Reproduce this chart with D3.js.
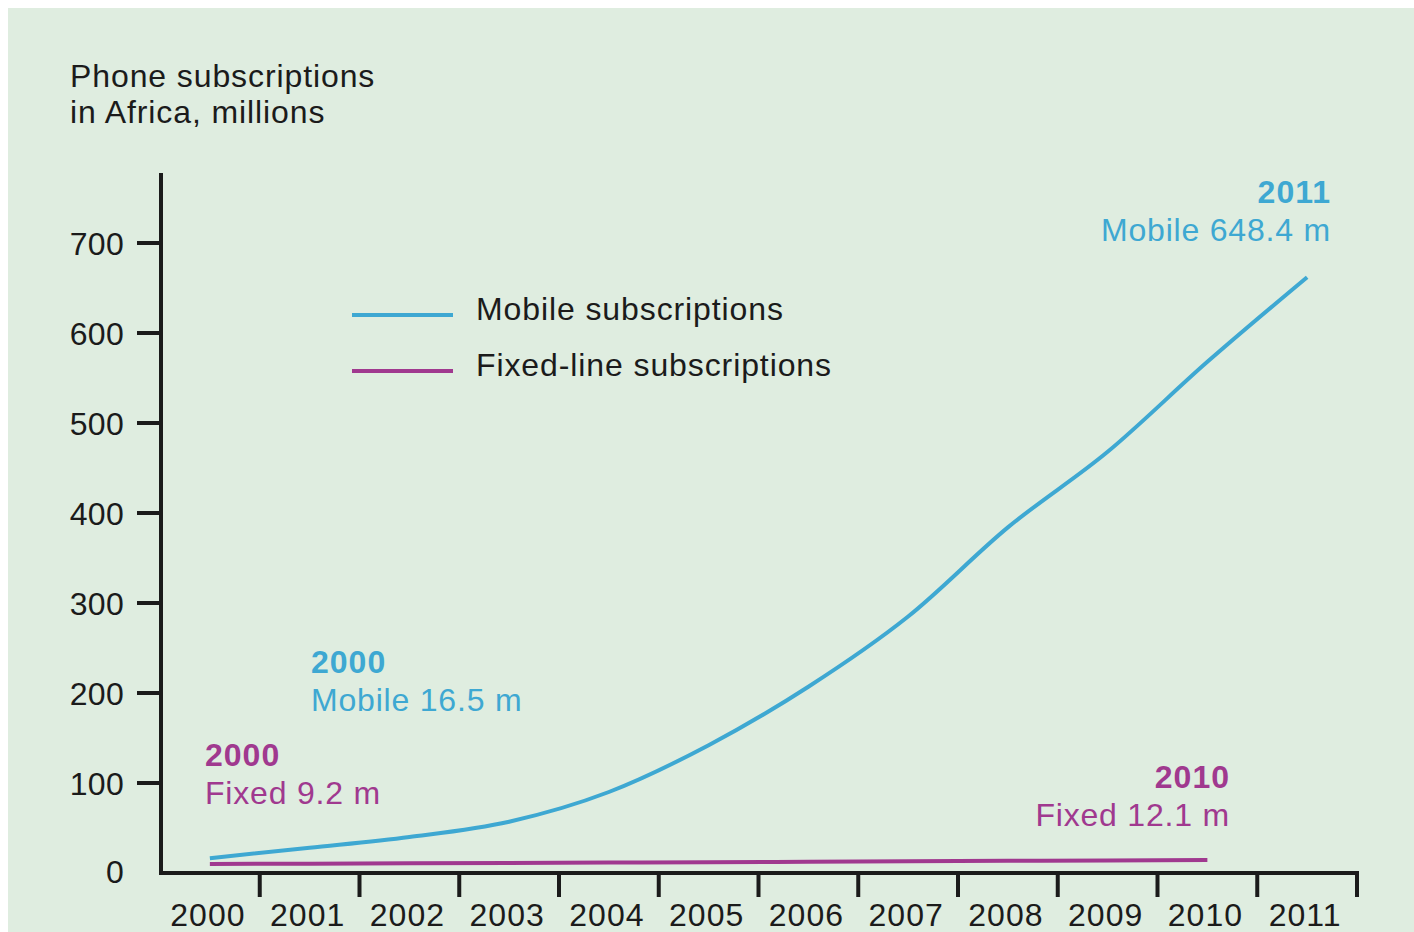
<!DOCTYPE html>
<html>
<head>
<meta charset="utf-8">
<script src="https://cdn.jsdelivr.net/npm/d3@7"></script>
<style>
  body { margin: 0; background: #ffffff; }
  svg { display: block; }
  text { font-family: "Liberation Sans", Arial, sans-serif; }
</style>
</head>
<body>
<div id="chart"></div>
<script>
// values
const years = [2000, 2001, 2002, 2003, 2004, 2005, 2006, 2007, 2008, 2009, 2010, 2011]
const mobile = [16.5, 28, 40, 57, 90, 142, 207, 285, 384, 468, 568, 662]
const fixedYears = [2000, 2001, 2002, 2003, 2004, 2005, 2006, 2007, 2008, 2009, 2010]
const fixed = [10, 10.4, 10.8, 11.2, 11.6, 12, 12.5, 13, 13.5, 14, 14.4]
const yTicks = [0, 100, 200, 300, 400, 500, 600, 700]
const titleLines = ['Phone subscriptions', 'in Africa, millions']
const legendItems = ['Mobile subscriptions', 'Fixed-line subscriptions']

const width = 1414
const height = 932
const blue = '#3ea8d2'
const purple = '#a0398f'
const ink = '#1b1b1b'
const fs = 32

const svg = d3.select('#chart').append('svg')
    .attr('width', width)
    .attr('height', height)

svg.append('rect')
    .attr('x', 8).attr('y', 8)
    .attr('width', width - 8).attr('height', height - 8)
    .attr('fill', '#dfede0')

const x = d3.scaleBand().domain(years).range([160, 1357])
const y = d3.scaleLinear().domain([0, 700]).range([873, 243])

// title
svg.append('g').selectAll('text')
    .data(titleLines)
    .join('text')
    .attr('x', 70)
    .attr('y', (d, i) => 87 + i * 36)
    .attr('font-size', fs)
    .attr('fill', ink)
    .style('letter-spacing', '0.9px')
    .text(d => d)

// y axis
const yAxis = svg.append('g')
yAxis.append('line')
    .attr('x1', 161).attr('x2', 161)
    .attr('y1', 173).attr('y2', y(0) + 2)
    .attr('stroke', ink).attr('stroke-width', 4)
yAxis.selectAll('.tick')
    .data(yTicks.filter(d => d > 0))
    .join('line')
    .attr('x1', 137).attr('x2', 161)
    .attr('y1', d => y(d)).attr('y2', d => y(d))
    .attr('stroke', ink).attr('stroke-width', 4)
yAxis.selectAll('text')
    .data(yTicks)
    .join('text')
    .attr('x', 124)
    .attr('y', d => y(d) - (d === 0 ? 2 : 0))
    .attr('dy', '0.36em')
    .attr('text-anchor', 'end')
    .attr('font-size', fs)
    .attr('fill', ink)
    .style('letter-spacing', '0.3px')
    .text(d => d)

// x axis
const xAxis = svg.append('g')
xAxis.append('line')
    .attr('x1', 159).attr('x2', 1359)
    .attr('y1', y(0)).attr('y2', y(0))
    .attr('stroke', ink).attr('stroke-width', 4)
xAxis.selectAll('.tick')
    .data(years)
    .join('line')
    .attr('x1', d => x(d) + x.bandwidth()).attr('x2', d => x(d) + x.bandwidth())
    .attr('y1', y(0)).attr('y2', y(0) + 24)
    .attr('stroke', ink).attr('stroke-width', 4)
xAxis.selectAll('text')
    .data(years)
    .join('text')
    .attr('x', d => x(d) + x.bandwidth() / 2 - 2)
    .attr('y', 926)
    .attr('text-anchor', 'middle')
    .attr('font-size', fs)
    .attr('fill', ink)
    .style('letter-spacing', '1px')
    .text(d => d)

// lines
const line = d3.line()
    .x(d => x(d[0]) + x.bandwidth() / 2)
    .y(d => y(d[1]))
    .curve(d3.curveMonotoneX)

svg.append('path')
    .datum(fixedYears.map((yr, i) => [yr, fixed[i]]))
    .attr('d', line)
    .attr('fill', 'none')
    .attr('stroke', purple)
    .attr('stroke-width', 4)

svg.append('path')
    .datum(years.map((yr, i) => [yr, mobile[i]]))
    .attr('d', line)
    .attr('fill', 'none')
    .attr('stroke', blue)
    .attr('stroke-width', 4)

// legend
const legend = svg.append('g')
legend.selectAll('line')
    .data(legendItems)
    .join('line')
    .attr('x1', 352).attr('x2', 453)
    .attr('y1', (d, i) => 315 + i * 56).attr('y2', (d, i) => 315 + i * 56)
    .attr('stroke', (d, i) => i === 0 ? blue : purple)
    .attr('stroke-width', 4)
legend.selectAll('text')
    .data(legendItems)
    .join('text')
    .attr('x', 476)
    .attr('y', (d, i) => 320 + i * 56)
    .attr('font-size', fs)
    .attr('fill', ink)
    .style('letter-spacing', '0.9px')
    .text(d => d)

// annotations
const notes = [
    { x: 1331, y: 203, anchor: 'end', color: blue, year: '2011', label: 'Mobile 648.4 m' },
    { x: 311, y: 673, anchor: 'start', color: blue, year: '2000', label: 'Mobile 16.5 m' },
    { x: 205, y: 766, anchor: 'start', color: purple, year: '2000', label: 'Fixed 9.2 m' },
    { x: 1230, y: 788, anchor: 'end', color: purple, year: '2010', label: 'Fixed 12.1 m' }
]
const note = svg.append('g').selectAll('g')
    .data(notes)
    .join('g')
note.append('text')
    .attr('x', d => d.x).attr('y', d => d.y)
    .attr('text-anchor', d => d.anchor)
    .attr('font-size', fs)
    .attr('font-weight', 'bold')
    .attr('fill', d => d.color)
    .style('letter-spacing', '1px')
    .text(d => d.year)
note.append('text')
    .attr('x', d => d.x).attr('y', d => d.y + 38)
    .attr('text-anchor', d => d.anchor)
    .attr('font-size', fs)
    .attr('fill', d => d.color)
    .style('letter-spacing', '0.8px')
    .text(d => d.label)
</script>
</body>
</html>
